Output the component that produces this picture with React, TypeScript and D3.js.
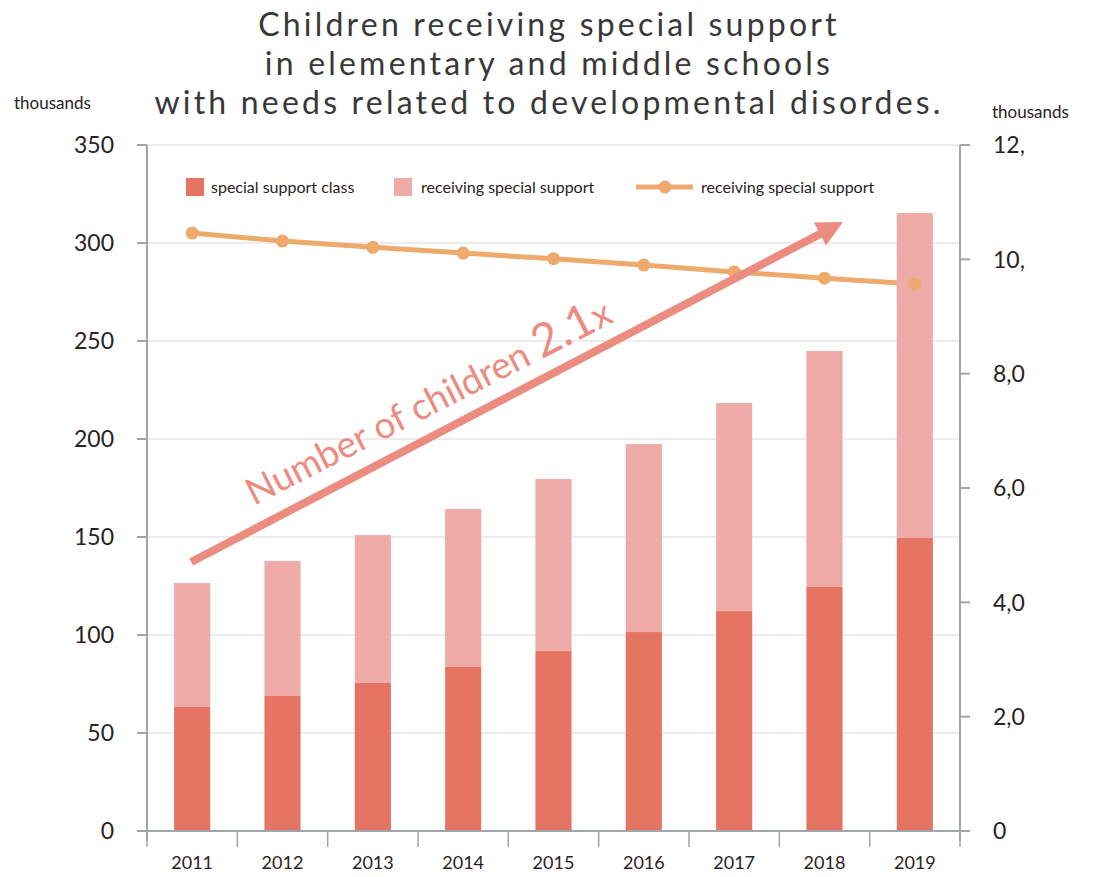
import React from "react";
import * as d3 from "d3";

const years = ["2011", "2012", "2013", "2014", "2015", "2016", "2017", "2018", "2019"];
const supportClass = [63.3, 68.9, 75.5, 83.7, 91.8, 101.5, 112.2, 124.5, 149.5];
const totalChildren = [126.5, 137.8, 151.0, 164.3, 179.6, 197.4, 218.4, 244.9, 315.3];
const lineValues = [10.46, 10.32, 10.21, 10.11, 10.01, 9.9, 9.78, 9.67, 9.57];
const leftTicks = [0, 50, 100, 150, 200, 250, 300, 350];
const rightTicks = [0, 2, 4, 6, 8, 10, 12];
const rightTickLabels = ["0", "2,0", "4,0", "6,0", "8,0", "10,", "12,"];
const titleLines = [
  "Children receiving special support",
  "in elementary and middle schools",
  "with needs related to developmental disordes.",
];
const legendLabels = ["special support class", "receiving special support", "receiving special support"];

const W = 1095;
const H = 877;
const left = 147;
const right = 960;
const top = 145;
const bottom = 831;

const C_DARK = "#e57463";
const C_LIGHT = "#efaba8";
const C_LINE = "#eeaa6c";
const C_ARROW = "#ec8b80";
const C_AXIS = "#a0a5ad";
const C_TEXT = "#2a2224";
const FONT = "Lato, 'Open Sans', sans-serif";

export default function App() {
  const x = d3.scaleBand<string>().domain(years).range([left, right]).paddingInner(0.6).paddingOuter(0.3);
  const xb = d3.scaleBand<string>().domain(years).range([left, right]);
  const yL = d3.scaleLinear().domain([0, 350]).range([bottom, top]);
  const yR = d3.scaleLinear().domain([0, 12]).range([bottom, top]);
  const lineGen = d3
    .line<number>()
    .x((_, i) => (xb(years[i]) as number) + xb.bandwidth() / 2)
    .y((d) => yR(d));

  const ax1 = (xb(years[0]) as number) + xb.bandwidth() / 2 - 1;
  const ay1 = yL(totalChildren[0]) - 21;
  const ax2 = 843;
  const ay2 = 222;
  const ang = Math.atan2(ay2 - ay1, ax2 - ax1);
  const angDeg = (ang * 180) / Math.PI;
  const headLen = 26;
  const headW = 13;
  const bx = ax2 - headLen * Math.cos(ang);
  const by = ay2 - headLen * Math.sin(ang);
  const px = -Math.sin(ang);
  const py = Math.cos(ang);

  return (
    <svg width={W} height={H} style={{ display: "block", position: "absolute", left: 0, top: 0 }} viewBox={`0 0 ${W} ${H}`}>
      <rect width={W} height={H} fill="#fff" />
      {titleLines.map((t, i) => (
        <text
          key={i}
          x={549}
          y={36 + i * 39}
          textAnchor="middle"
          fontFamily={FONT}
          fontSize={32}
          fontWeight={400}
          letterSpacing={3.2}
          fill="#383838"
        >
          {t}
        </text>
      ))}
      <text x={14} y={109} fontFamily={FONT} fontSize={17} fill={C_TEXT}>thousands</text>
      <text x={992} y={118} fontFamily={FONT} fontSize={17} fill={C_TEXT}>thousands</text>

      {leftTicks.slice(1).map((t) => (
        <line key={t} x1={left} x2={right} y1={yL(t)} y2={yL(t)} stroke="#ececec" strokeWidth={2} />
      ))}

      <path d={lineGen(lineValues) || ""} fill="none" stroke={C_LINE} strokeWidth={5} />

      {years.map((yr, i) => (
        <g key={yr}>
          <rect x={x(yr)} width={x.bandwidth()} y={yL(totalChildren[i])} height={yL(supportClass[i]) - yL(totalChildren[i])} fill={C_LIGHT} />
          <rect x={x(yr)} width={x.bandwidth()} y={yL(supportClass[i])} height={bottom - yL(supportClass[i])} fill={C_DARK} />
        </g>
      ))}

      {lineValues.map((v, i) => (
        <circle key={i} cx={(xb(years[i]) as number) + xb.bandwidth() / 2} cy={yR(v)} r={6.5} fill={C_LINE} />
      ))}

      <line x1={left} x2={left} y1={top} y2={bottom + 10} stroke={C_AXIS} strokeWidth={2} />
      <line x1={right} x2={right} y1={top} y2={bottom + 10} stroke={C_AXIS} strokeWidth={2} />
      <line x1={left} x2={right} y1={bottom} y2={bottom} stroke={C_AXIS} strokeWidth={2} />
      {leftTicks.map((t) => (
        <g key={t}>
          <line x1={left - 10} x2={left} y1={yL(t)} y2={yL(t)} stroke={C_AXIS} strokeWidth={2} />
          <text x={114} y={yL(t)} dy="0.36em" textAnchor="end" fontFamily={FONT} fontSize={23} fill={C_TEXT}>{t}</text>
        </g>
      ))}
      {rightTicks.map((t, i) => (
        <g key={t}>
          <line x1={right} x2={right + 10} y1={yR(t)} y2={yR(t)} stroke={C_AXIS} strokeWidth={2} />
          <text x={993} y={yR(t)} dy="0.36em" textAnchor="start" fontFamily={FONT} fontSize={23} fill={C_TEXT}>{rightTickLabels[i]}</text>
        </g>
      ))}
      {years.map((yr) => (
        <line key={yr} x1={xb(yr)} x2={xb(yr)} y1={bottom} y2={bottom + 16} stroke={C_AXIS} strokeWidth={1.5} />
      ))}
      <line x1={right} x2={right} y1={bottom} y2={bottom + 16} stroke={C_AXIS} strokeWidth={1.5} />
      {years.map((yr) => (
        <text key={yr} x={(xb(yr) as number) + xb.bandwidth() / 2} y={869} textAnchor="middle" fontFamily={FONT} fontSize={18} fill={C_TEXT}>{yr}</text>
      ))}

      <rect x={186} y={178} width={18} height={18} fill={C_DARK} />
      <text x={211} y={187} dy="0.35em" fontFamily={FONT} fontSize={16} fill={C_TEXT}>{legendLabels[0]}</text>
      <rect x={394} y={178} width={18} height={18} fill={C_LIGHT} />
      <text x={421} y={187} dy="0.35em" fontFamily={FONT} fontSize={16} fill={C_TEXT}>{legendLabels[1]}</text>
      <line x1={636} x2={693} y1={187} y2={187} stroke={C_LINE} strokeWidth={5} />
      <circle cx={665} cy={187} r={6.5} fill={C_LINE} />
      <text x={701} y={187} dy="0.35em" fontFamily={FONT} fontSize={16} fill={C_TEXT}>{legendLabels[2]}</text>

      <line x1={ax1} y1={ay1} x2={bx + 2 * Math.cos(ang)} y2={by + 2 * Math.sin(ang)} stroke={C_ARROW} strokeWidth={8} />
      <polygon
        points={`${ax2},${ay2} ${bx + px * headW},${by + py * headW} ${bx - px * headW},${by - py * headW}`}
        fill={C_ARROW}
      />
      <text
        transform={`translate(254,506) rotate(${angDeg + 0.5})`}
        fontFamily={FONT}
        fontSize={37}
        fill={C_ARROW}
      >
        Number of children <tspan fontSize={46}>2.1</tspan><tspan fontSize={37}>x</tspan>
      </text>
    </svg>
  );
}
